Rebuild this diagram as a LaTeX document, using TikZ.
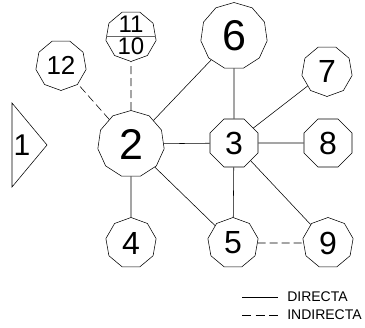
\documentclass[tikz,border=0pt]{standalone}
\usepackage{fontspec}
\setmainfont{Liberation Sans}
\usetikzlibrary{shapes.geometric}
\newcommand{\fsz}[1]{\fontsize{#1}{#1}\selectfont}
\begin{document}
\begin{tikzpicture}[x=1pt,y=-1pt,
  line width=0.55pt,
  poly/.style={draw, regular polygon, inner sep=0pt, line width=0.55pt},
  bignode/.style={poly, regular polygon sides=11, minimum size=67pt, font=\fsz{43}},
  smallnode/.style={poly, regular polygon sides=9, minimum size=51pt, font=\fsz{32}},
  flipnode/.style={smallnode, regular polygon rotate=180},
  octnode/.style={poly, regular polygon sides=8, minimum size=52pt, font=\fsz{32}},
  direct/.style={draw, line width=0.55pt},
  indirect/.style={draw, line width=0.55pt, dash pattern=on 8pt off 4pt},
  legtext/.style={anchor=west, inner sep=0pt, font=\fsz{14}}]
\useasboundingbox (0,0) rectangle (365,328);

% triangle 1
\draw (12,103) -- (47,145) -- (12,187) -- cycle;
\node[font=\fsz{30}, inner sep=0pt] (n1) at (22,145) {1};

% nodes
\node[bignode] (n2) at (131,144) {2};
\node[bignode] (n6) at (234,36) {6};
\node[octnode] (n3) at (234,143) {3};
\node[octnode] (n8) at (328,143) {8};
\node[flipnode] (n7) at (327,71) {7};
\node[flipnode, font=\fsz{26}] (n12) at (61,65) {12};
\node[flipnode] (n1110) at (131,36) {};
\draw[draw=black!60] (n1110.180) -- (n1110.0);
\node[font=\fsz{24}, inner sep=0pt] (t11) at (131,24) {11};
\node[font=\fsz{24}, inner sep=0pt] (t10) at (131,46) {10};
\node[smallnode] (n4) at (131,243) {4};
\node[smallnode] (n5) at (233,243) {5};
\node[smallnode] (n9) at (328,243) {9};

% connectors
\path[indirect] (n2) -- (n12);
\path[indirect] (n2) -- (n1110);
\path[direct] (n2) -- (n6);
\path[direct] (n2) -- (n3);
\path[direct] (n2) -- (n4);
\path[direct] (n2) -- (n5);
\path[direct] (n3) -- (n6);
\path[direct] (n3) -- (n7);
\path[direct] (n3) -- (n8);
\path[direct] (n3) -- (n5);
\path[direct] (n3) -- (n9);
\path[indirect] (n5) -- (n9);

% legend
\coordinate (la) at (242,297);
\coordinate (lb) at (278,297);
\coordinate (lc) at (242,315);
\coordinate (ld) at (278,315);
\path[direct] (la) -- (lb);
\path[draw, line width=0.55pt, dash pattern=on 9pt off 4.5pt] (lc) -- (ld);
\node[legtext] (ldir) at (287,297) {DIRECTA};
\node[legtext] (lind) at (287,315) {INDIRECTA};
\end{tikzpicture}
\end{document}
